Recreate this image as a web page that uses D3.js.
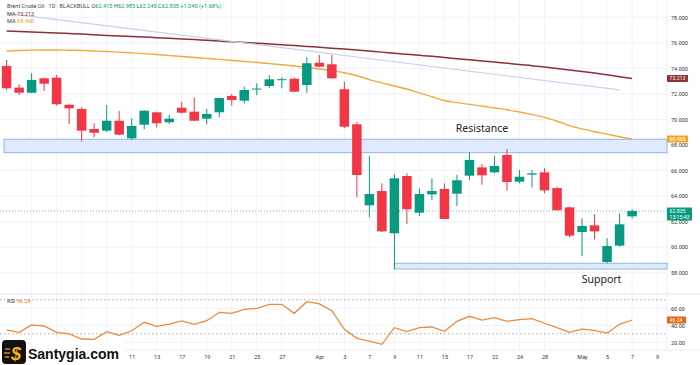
<!DOCTYPE html>
<html><head><meta charset="utf-8">
<script src="https://cdn.jsdelivr.net/npm/d3@7"></script>
<style>body{margin:0;background:#fff;} svg{display:block;font-family:"Noto Sans",Roboto,sans-serif;}</style>
</head><body><svg id="c" width="700" height="365"></svg>
<script>
const dates = ["2025-02-25","2025-02-26","2025-02-27","2025-02-28","2025-03-03","2025-03-04","2025-03-05","2025-03-06","2025-03-07","2025-03-10",
"2025-03-11","2025-03-12","2025-03-13","2025-03-14","2025-03-17","2025-03-18","2025-03-19","2025-03-20","2025-03-21","2025-03-24",
"2025-03-25","2025-03-26","2025-03-27","2025-03-28","2025-03-31","2025-04-01","2025-04-02","2025-04-03","2025-04-04","2025-04-07",
"2025-04-08","2025-04-09","2025-04-10","2025-04-11","2025-04-14","2025-04-15","2025-04-16","2025-04-17","2025-04-21","2025-04-22",
"2025-04-23","2025-04-24","2025-04-25","2025-04-28","2025-04-29","2025-04-30","2025-05-01","2025-05-02","2025-05-05","2025-05-06","2025-05-07"];
const futureDates = ["2025-05-08","2025-05-09"];
const open = [74.18,72.49,72.09,73.22,73.27,71.15,70.82,69.25,69.12,69.90,68.52,69.59,70.56,69.78,70.92,70.61,70.06,70.56,71.84,71.47,72.39,72.62,73.13,73.19,72.70,74.44,74.32,72.36,69.62,63.28,64.40,61.09,65.57,62.70,64.14,64.56,64.19,65.60,66.25,65.86,67.22,65.13,65.68,65.86,64.63,63.12,61.19,61.71,58.84,60.12,62.415];
const high = [74.65,72.75,73.61,73.27,73.48,71.20,70.95,69.70,71.13,70.66,70.09,70.74,70.61,70.35,71.37,71.73,70.82,71.70,71.99,72.56,72.83,73.46,73.30,73.30,74.87,75.05,75.05,72.96,69.82,67.14,65.00,65.71,65.78,64.61,65.39,65.00,65.65,67.43,66.51,67.14,67.71,66.04,66.04,66.18,64.74,63.17,62.26,62.58,60.70,62.65,62.985];
const low = [72.31,71.91,72.05,72.23,71.08,69.64,68.26,68.60,69.04,68.78,68.39,69.23,69.39,69.64,70.48,69.88,69.62,70.17,71.08,71.26,71.91,72.44,72.44,72.17,72.09,74.08,73.20,69.31,63.91,62.34,61.19,58.27,61.82,62.44,63.69,62.18,63.22,65.26,64.89,65.78,64.42,65.00,64.66,64.22,62.86,60.78,59.31,60.62,58.74,60.04,62.245];
const close = [72.44,72.09,73.09,72.80,71.19,70.87,69.12,68.96,69.90,68.81,69.49,70.68,69.70,70.06,70.53,69.90,70.43,71.68,71.52,72.31,72.42,73.14,73.15,72.17,74.40,74.13,73.22,69.43,65.65,64.16,61.24,65.39,62.97,64.16,64.40,62.21,65.24,66.83,65.63,66.36,65.10,65.52,65.78,64.45,62.89,60.90,61.66,61.24,60.09,61.79,62.835];
const maSlow = [76.93,76.89,76.85,76.80,76.76,76.72,76.68,76.63,76.58,76.54,76.49,76.45,76.40,76.35,76.30,76.25,76.19,76.14,76.08,76.03,75.97,75.91,75.85,75.78,75.72,75.65,75.58,75.51,75.43,75.35,75.27,75.18,75.10,75.02,74.94,74.85,74.76,74.67,74.58,74.49,74.40,74.30,74.21,74.10,73.99,73.88,73.76,73.63,73.49,73.35,73.213];
const maFast = [75.36,75.40,75.43,75.44,75.44,75.42,75.40,75.36,75.32,75.27,75.21,75.15,75.08,75.00,74.93,74.85,74.78,74.70,74.62,74.54,74.46,74.37,74.28,74.18,74.07,73.95,73.82,73.66,73.42,73.12,72.86,72.62,72.38,72.08,71.78,71.48,71.32,71.18,71.05,70.90,70.76,70.58,70.38,70.16,69.86,69.52,69.26,69.04,68.85,68.65,68.46];
const rsi = [34.5,31.8,40.4,39.2,31.8,29.8,23.9,23.5,32.5,28.2,33.6,43.5,38.8,41.5,45.1,41.2,45.4,55.3,54.1,58.8,60.0,64.7,64.7,54.1,67.8,65.1,57.2,35.3,24.7,21.5,17.6,37.2,32.5,37.2,38.0,32.9,44.7,50.6,46.2,48.9,44.7,46.6,47.8,42.4,37.2,31.8,35.6,34.1,30.9,41.2,46.24];
const trendDates = ["2025-02-25","2025-05-06"];
const trendPrices = [78.31,72.31];
const resistanceZone = [67.40,68.45];
const supportZone = [58.29,58.74];
const supportStart = "2025-04-09";
const priceTicks = [58,60,62,64,66,68,70,72,74,76,78];
const rsiTicks = [20,40,60];
const rsiLevels = [70,30];
const gridDates = ["2025-02-27","2025-03-03","2025-03-05","2025-03-07"];
const tickDates = ["2025-03-11","2025-03-13","2025-03-17","2025-03-19","2025-03-21","2025-03-25","2025-03-27","2025-04-01","2025-04-03","2025-04-07","2025-04-09","2025-04-11","2025-04-15","2025-04-17","2025-04-22","2025-04-24","2025-04-28","2025-05-01","2025-05-05","2025-05-07","2025-05-09"];
const tickLabels = ["11","13","17","19","21","25","27","Apr","3","7","9","11","15","17","22","24","28","May","5","7","9"];

const svg = d3.select("#c");
const paneR = 667, priceBottom = 294, rsiBottom = 350;
const allDates = dates.concat(futureDates);
const x = d3.scalePoint().domain(allDates).range([6.6, 657.1]);
const y = d3.scaleLinear().domain([58, 78]).range([272.75, 17.25]);
const yr = d3.scaleLinear().domain([20, 60]).range([342.3, 308.3]);
const GREEN = "#089981", RED = "#f23645";

svg.append("rect").attr("width",700).attr("height",365).attr("fill","#fff");
// grids
const g = svg.append("g");
g.selectAll(".hg").data(priceTicks).join("line").attr("x1",0).attr("x2",paneR).attr("y1",d=>y(d)).attr("y2",d=>y(d)).attr("stroke","#f0f2f6");
g.selectAll(".rg").data(rsiTicks).join("line").attr("x1",0).attr("x2",paneR).attr("y1",d=>yr(d)).attr("y2",d=>yr(d)).attr("stroke","#f0f2f6");
g.selectAll(".vg").data(gridDates.concat(tickDates)).join("line").attr("x1",d=>x(d)).attr("x2",d=>x(d)).attr("y1",0).attr("y2",rsiBottom).attr("stroke","#f0f2f6");
g.append("line").attr("x1",0).attr("x2",700).attr("y1",priceBottom).attr("y2",priceBottom).attr("stroke","#e3e6ec");
g.append("line").attr("x1",0).attr("x2",700).attr("y1",rsiBottom).attr("y2",rsiBottom).attr("stroke","#eceef2");
g.append("line").attr("x1",paneR).attr("x2",paneR).attr("y1",0).attr("y2",rsiBottom).attr("stroke","#eceef2");

// zones
svg.append("rect").attr("x",4).attr("width",paneR-4).attr("y",y(resistanceZone[1])).attr("height",y(resistanceZone[0])-y(resistanceZone[1]))
  .attr("fill","#dfeafc").attr("stroke","#93b6ea").attr("stroke-width",1);
svg.append("rect").attr("x",x(supportStart)).attr("width",paneR-x(supportStart)).attr("y",y(supportZone[1])).attr("height",y(supportZone[0])-y(supportZone[1]))
  .attr("fill","#dfeafc").attr("stroke","#93b6ea").attr("stroke-width",1);

// MAs
const lineFn = d3.line().x((d,i)=>x(dates[i])).y(d=>y(d)).curve(d3.curveMonotoneX);
svg.append("path").attr("d",lineFn(maFast)).attr("fill","none").attr("stroke","#f0aa3a").attr("stroke-width",1.4);
svg.append("path").attr("d",lineFn(maSlow)).attr("fill","none").attr("stroke","#8e2f35").attr("stroke-width",1.5);
svg.append("line").attr("x1",x(trendDates[0])).attr("x2",x(trendDates[1])).attr("y1",y(trendPrices[0])).attr("y2",y(trendPrices[1]))
  .attr("stroke","#c9cfee").attr("stroke-width",1.2);

// current price line
svg.append("line").attr("x1",0).attr("x2",paneR).attr("y1",y(close[close.length-1])).attr("y2",y(close[close.length-1]))
  .attr("stroke",GREEN).attr("stroke-dasharray","1,2").attr("opacity",0.6);

// candles
const candles = dates.map((d,i)=>({d,o:open[i],h:high[i],l:low[i],c:close[i]}));
const cg = svg.append("g").selectAll("g").data(candles).join("g");
cg.append("line").attr("x1",d=>x(d.d)).attr("x2",d=>x(d.d)).attr("y1",d=>y(d.h)).attr("y2",d=>y(d.l))
  .attr("stroke",d=>d.c>=d.o?GREEN:RED).attr("stroke-width",1);
const bw = 9.5;
cg.append("rect").attr("x",d=>x(d.d)-bw/2).attr("width",bw)
  .attr("y",d=>y(Math.max(d.o,d.c))).attr("height",d=>Math.max(1,Math.abs(y(d.o)-y(d.c))))
  .attr("fill",d=>d.c>=d.o?GREEN:RED);

// annotations
svg.append("text").attr("x",x("2025-04-21")).attr("y",y(resistanceZone[1])-7).attr("text-anchor","middle")
  .attr("font-size",10.5).attr("fill","#222").text("Resistance");
svg.append("text").attr("x",x("2025-05-02")+7).attr("y",y(supportZone[0])+14).attr("text-anchor","middle")
  .attr("font-size",10.5).attr("fill","#222").text("Support");

// RSI
g.selectAll(".lv").data(rsiLevels).join("line").attr("x1",0).attr("x2",paneR).attr("y1",d=>yr(d)).attr("y2",d=>yr(d))
  .attr("stroke","#a7a9b0").attr("stroke-dasharray","1.5,2.5");
const rsiLine = d3.line().x((d,i)=>x(dates[i])).y(d=>yr(d));
svg.append("path").attr("d",rsiLine(rsi)).attr("fill","none").attr("stroke","#eb8a3c").attr("stroke-width",1.3);

// axes
const ax = svg.append("g").attr("transform",`translate(${paneR},0)`)
  .call(d3.axisRight(y).tickValues(priceTicks).tickFormat(d=>d.toFixed(3)).tickSize(0).tickPadding(4));
ax.select(".domain").remove();
ax.selectAll("text").attr("font-size",5.5).attr("fill","#333").attr("font-family","Roboto,sans-serif");
const axr = svg.append("g").attr("transform",`translate(${paneR},0)`)
  .call(d3.axisRight(yr).tickValues(rsiTicks).tickFormat(d=>d.toFixed(2)).tickSize(0).tickPadding(4));
axr.select(".domain").remove();
axr.selectAll("text").attr("font-size",5.5).attr("fill","#333").attr("font-family","Roboto,sans-serif");
const axb = svg.append("g").attr("transform",`translate(0,${rsiBottom+2})`)
  .call(d3.axisBottom(x).tickValues(tickDates).tickFormat((d,i)=>tickLabels[i]).tickSize(0).tickPadding(3));
axb.select(".domain").remove();
axb.selectAll("text").attr("font-size",5.5).attr("fill","#333").attr("font-family","Roboto,sans-serif");

// right tags
function tag(yc, h, w, bg, lines){
  const t = svg.append("g");
  t.append("rect").attr("x",paneR).attr("y",yc-3.5).attr("width",w).attr("height",h).attr("rx",0.8).attr("fill",bg);
  lines.forEach((s,i)=>t.append("text").attr("x",paneR+2.5).attr("y",yc+i*6.2).attr("dy","0.35em")
    .attr("font-size",5.2).attr("fill","#fff").attr("font-family","Roboto,sans-serif").text(s));
}
tag(y(maSlow[maSlow.length-1]), 7, 21, "#8e2f35", [maSlow[maSlow.length-1].toFixed(3)]);
tag(y(maFast[maFast.length-1]), 7, 21, "#f2a524", [maFast[maFast.length-1].toFixed(3)]);
tag(y(close[close.length-1]), 13, 25, GREEN, [close[close.length-1].toFixed(3), "13:15:43"]);
tag(yr(rsi[rsi.length-1]), 7, 19, "#e2661b", [rsi[rsi.length-1].toFixed(2)]);

// legend
const L = svg.append("g").attr("font-size",5.6).attr("font-family","Roboto,sans-serif");
const t1 = L.append("text").attr("x",7).attr("y",8);
t1.append("tspan").attr("fill","#444").text("Brent Crude Oil · 1D · BLACKBULL  ");
const o = open.length-1;
[["O",open[o].toFixed(3)],["H",high[o].toFixed(3)],["L",low[o].toFixed(3)],["C",close[o].toFixed(3)]].forEach(([k,v])=>{
  t1.append("tspan").attr("fill","#444").text(" "+k);
  t1.append("tspan").attr("fill",GREEN).text(v);
});
t1.append("tspan").attr("fill",GREEN).text(" +1.040 (+1.68%)");
const t2 = L.append("text").attr("x",7).attr("y",15.5);
t2.append("tspan").attr("fill","#444").text("MA ");
t2.append("tspan").attr("fill","#8e2f35").text(maSlow[maSlow.length-1].toFixed(3));
const t3 = L.append("text").attr("x",7).attr("y",23);
t3.append("tspan").attr("fill","#444").text("MA ");
t3.append("tspan").attr("fill","#f0a020").text(maFast[maFast.length-1].toFixed(3));
const t4 = L.append("text").attr("x",7).attr("y",302.5);
t4.append("tspan").attr("fill","#444").text("RSI ");
t4.append("tspan").attr("fill","#eb7a2c").text(rsi[rsi.length-1].toFixed(2));

// logo
const lg = svg.append("g");
lg.append("rect").attr("x",0).attr("y",340.5).attr("width",124).attr("height",24.5).attr("fill","#fff");
lg.append("rect").attr("x",2).attr("y",340).attr("width",24).attr("height",24).attr("rx",4).attr("fill","#111");
[[5,349,10],[4,353,10],[5,357,9]].forEach(([a,b,c])=>lg.append("line").attr("x1",a).attr("x2",c).attr("y1",b).attr("y2",b).attr("stroke","#f39a1b").attr("stroke-width",1.3));
lg.append("text").attr("x",16).attr("y",359.5).attr("text-anchor","middle").attr("font-size",18).attr("font-weight","bold")
  .attr("font-style","italic").attr("fill","#f7b21a").attr("font-family","Liberation Sans,sans-serif").text("$");
lg.append("text").attr("x",28).attr("y",359).attr("font-size",14).attr("font-weight","bold").attr("fill","#111")
  .attr("font-family","Liberation Sans,Arial,sans-serif").text("Santygia.com");
</script></body></html>
